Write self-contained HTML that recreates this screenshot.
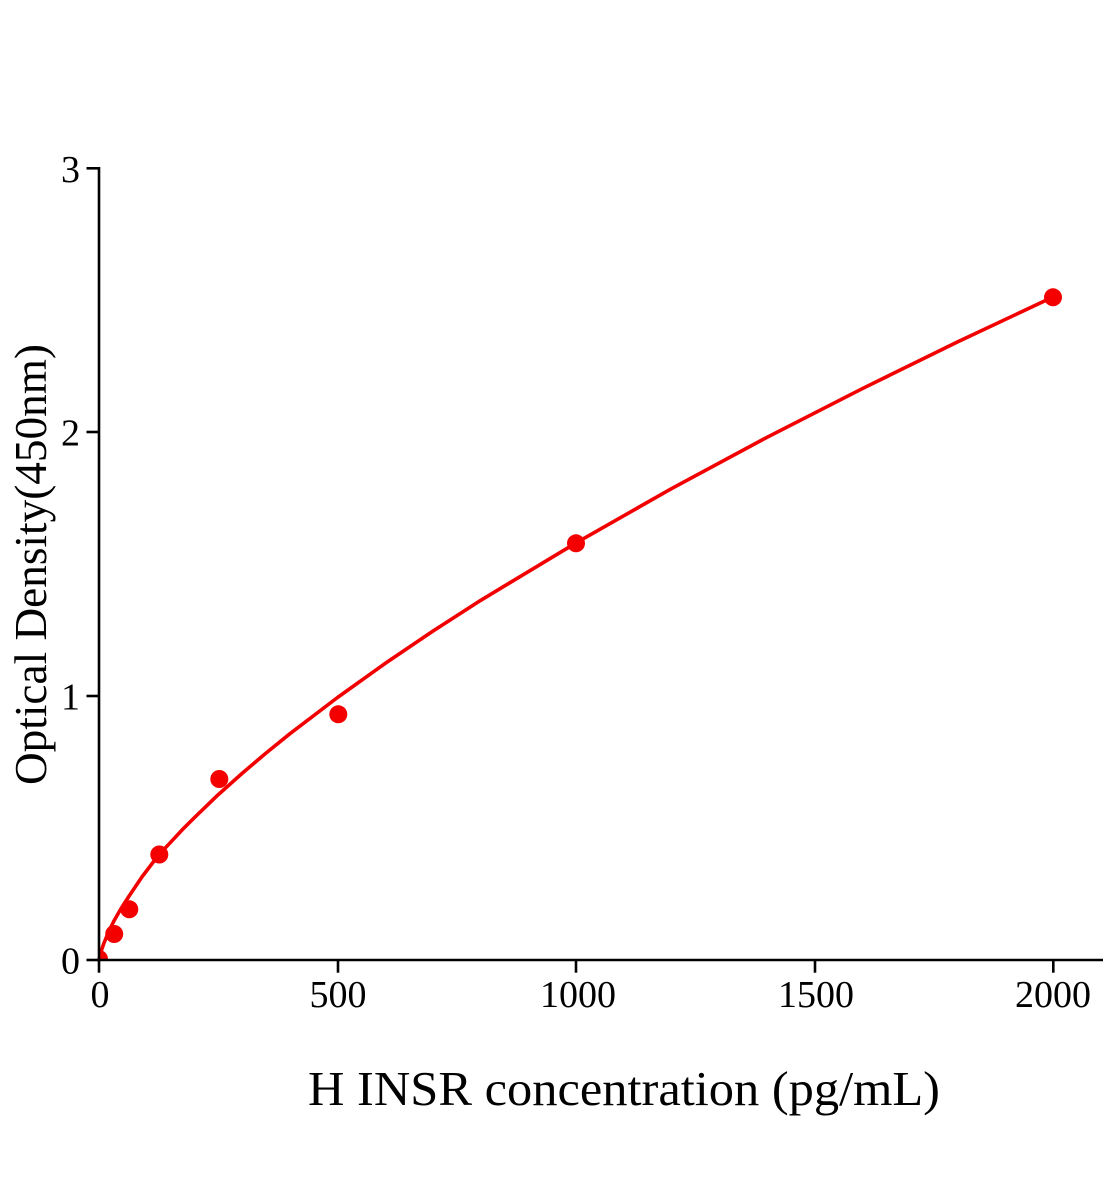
<!DOCTYPE html>
<html>
<head>
<meta charset="utf-8">
<style>
  html, body { margin: 0; padding: 0; background: #ffffff; }
  svg { display: block; }
  text { font-family: "Liberation Serif", "Times New Roman", serif; fill: #000; }
</style>
</head>
<body>
<svg width="1104" height="1200" viewBox="0 0 1104 1200" xmlns="http://www.w3.org/2000/svg">
  <rect x="0" y="0" width="1104" height="1200" fill="#ffffff"/>
  <defs>
    <clipPath id="plot">
      <rect x="99" y="100" width="1005" height="860"/>
    </clipPath>
  </defs>

  <!-- curve -->
  <polyline fill="none" stroke="#f20000" stroke-width="3.6" stroke-linejoin="round" stroke-linecap="round"
    points="99,960 101.4,950.5 103.8,943.5 108.5,932 113.9,921 120.5,909.5 128.8,896.5 141.9,877 158.6,855 170.6,842.3 182.5,829.5 194.4,817.6 218.3,794.6 242.1,773.4 265.95,753.1 289.8,733.8 337.5,697.5 385.2,663.4 432.9,631.1 480.6,600.4 576,542.9 671.4,488.7 766.8,437.4 862.2,388.7 957.6,341.9 1053,297"/>

  <!-- markers -->
  <g fill="#f40000">
    <circle cx="99" cy="959" r="9" clip-path="url(#plot)"/>
    <circle cx="114.2" cy="934" r="9"/>
    <circle cx="129.3" cy="909.3" r="9"/>
    <circle cx="159.3" cy="854.5" r="9"/>
    <circle cx="219.3" cy="779" r="9"/>
    <circle cx="338.3" cy="714.3" r="9"/>
    <circle cx="576" cy="543.3" r="9"/>
    <circle cx="1053" cy="297.3" r="9"/>
  </g>

  <!-- axes -->
  <g stroke="#000" stroke-width="2.6" fill="none" stroke-linecap="butt">
    <line x1="99" y1="167" x2="99" y2="961.3"/>
    <line x1="97.7" y1="960" x2="1103" y2="960"/>
    <!-- y ticks -->
    <line x1="86.5" y1="168.3" x2="99" y2="168.3"/>
    <line x1="86.5" y1="432" x2="99" y2="432"/>
    <line x1="86.5" y1="696" x2="99" y2="696"/>
    <line x1="86.5" y1="960" x2="99" y2="960"/>
    <!-- x ticks -->
    <line x1="99" y1="960" x2="99" y2="972.7"/>
    <line x1="338" y1="960" x2="338" y2="972.7"/>
    <line x1="576" y1="960" x2="576" y2="972.7"/>
    <line x1="815" y1="960" x2="815" y2="972.7"/>
    <line x1="1053.3" y1="960" x2="1053.3" y2="972.7"/>
  </g>

  <!-- y tick labels -->
  <g font-size="38" text-anchor="end">
    <text x="80" y="182">3</text>
    <text x="80" y="445.5">2</text>
    <text x="80" y="709.5">1</text>
    <text x="80" y="973.5">0</text>
  </g>

  <!-- x tick labels -->
  <g font-size="38" text-anchor="middle">
    <text x="100" y="1007">0</text>
    <text x="338" y="1007">500</text>
    <text x="578" y="1007">1000</text>
    <text x="816" y="1007">1500</text>
    <text x="1053" y="1007">2000</text>
  </g>

  <!-- axis titles -->
  <text x="308" y="1105" font-size="49" textLength="632" lengthAdjust="spacingAndGlyphs">H INSR concentration (pg/mL)</text>
  <text transform="translate(46,785) rotate(-90)" x="0" y="0" font-size="46" textLength="441" lengthAdjust="spacingAndGlyphs">Optical Density(450nm)</text>
</svg>
</body>
</html>
